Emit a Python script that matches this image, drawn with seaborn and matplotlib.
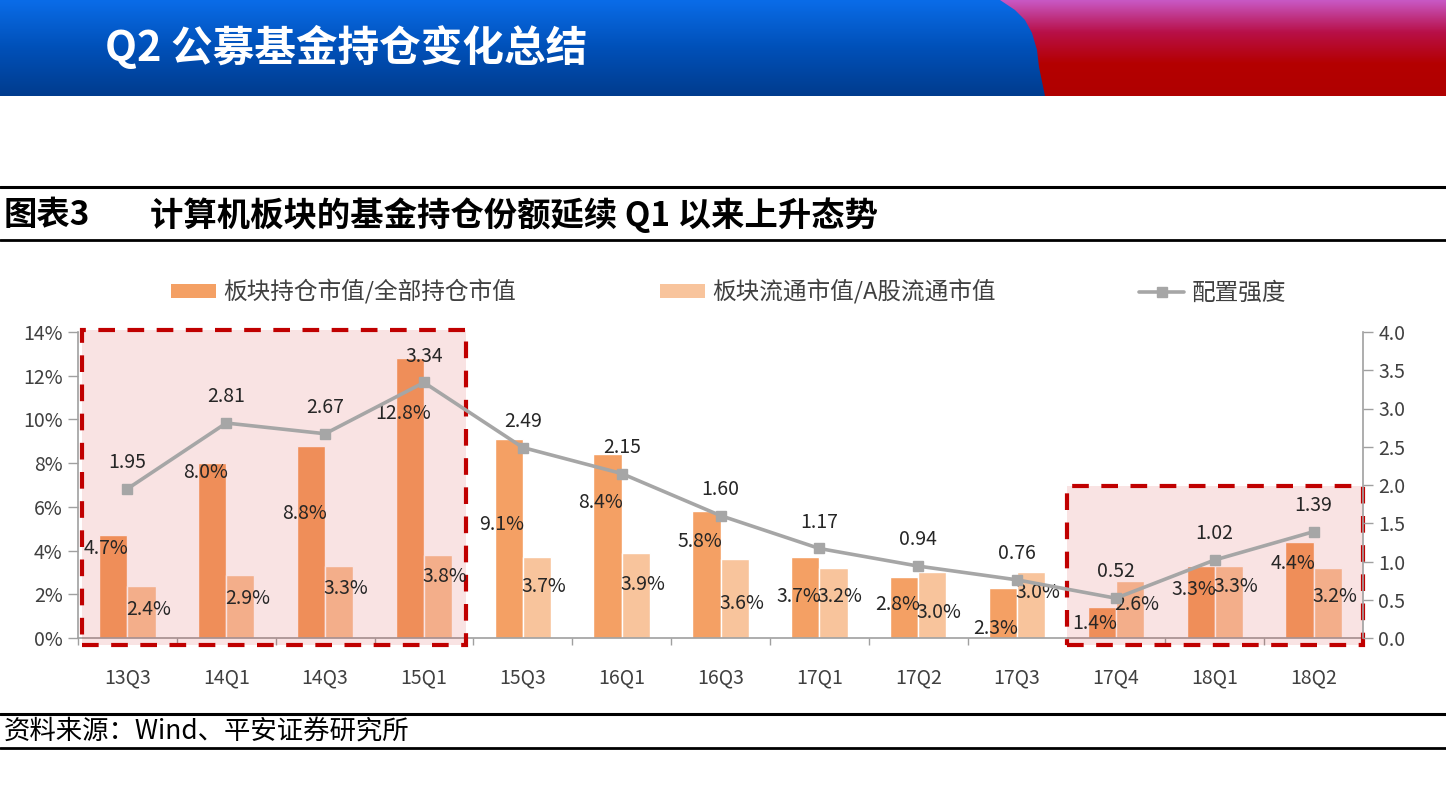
import numpy as np
import pandas as pd
import matplotlib
matplotlib.use('Agg')
import matplotlib.pyplot as plt
import seaborn as sns
from matplotlib.patches import Rectangle, Polygon, Patch
from matplotlib.lines import Line2D
from matplotlib.colors import LinearSegmentedColormap

# DATOS
periodos = ["13Q3", "14Q1", "14Q3", "15Q1", "15Q3", "16Q1", "16Q3",
            "17Q1", "17Q2", "17Q3", "17Q4", "18Q1", "18Q2"]
hold_share = [4.7, 8.0, 8.8, 12.8, 9.1, 8.4, 5.8, 3.7, 2.8, 2.3, 1.4, 3.3, 4.4]
float_share = [2.4, 2.9, 3.3, 3.8, 3.7, 3.9, 3.6, 3.2, 3.0, 3.0, 2.6, 3.3, 3.2]
intensidad = [1.95, 2.81, 2.67, 3.34, 2.49, 2.15, 1.60, 1.17, 0.94, 0.76, 0.52, 1.02, 1.39]

serie1 = "板块持仓市值/全部持仓市值"
serie2 = "板块流通市值/A股流通市值"
serie3 = "配置强度"

# posicion vertical (en %) de las etiquetas, como en el original
pos_lab1 = [4.1, 7.55, 5.7, 10.25, 5.2, 6.2, 4.4, 1.9, 1.55, 0.45, 0.65, 2.2, 3.4]
pos_lab2 = [1.3, 1.8, 2.25, 2.8, 2.35, 2.45, 1.6, 1.9, 1.15, 2.1, 1.55, 2.35, 1.9]

df = pd.DataFrame({
    "periodo": periodos * 2,
    "valor": hold_share + float_share,
    "serie": [serie1] * len(periodos) + [serie2] * len(periodos),
})

c1 = "#F4A064"
c2 = "#F8C49C"
c_line = "#A6A6A6"
c_txt = "#262626"
c_tick = "#404040"

sns.set_theme(style="white")
plt.rcParams['font.family'] = ['Noto Sans CJK SC', 'DejaVu Sans']
plt.rcParams['axes.unicode_minus'] = False

fig = plt.figure(figsize=(14.46, 8.10), dpi=100)

# FONDO / CABECERA
bg = fig.add_axes([0, 0, 1, 1], zorder=-10)
bg.set_xlim(0, 1446)
bg.set_ylim(810, 0)
bg.axis("off")

grad = np.linspace(0, 1, 100).reshape(-1, 1)
cmap_blue = LinearSegmentedColormap.from_list("b", ["#0A6CE8", "#0050B8", "#003C8E"])
bg.imshow(grad, cmap=cmap_blue, extent=[0, 1446, 96, 0], aspect="auto", zorder=1)
cmap_red = LinearSegmentedColormap.from_list("r", ["#C858C4", "#B81048", "#B40000", "#B00000"])
im_red = bg.imshow(grad, cmap=cmap_red, extent=[0, 1446, 96, 0], aspect="auto", zorder=2)
forma = Polygon([(1000, 0), (1015, 10), (1025, 20), (1032, 33), (1037, 50),
                 (1039, 67), (1045, 96), (1446, 96), (1446, 0)],
                closed=True, transform=bg.transData, facecolor="none", edgecolor="none")
bg.add_patch(forma)
im_red.set_clip_path(forma)

bg.text(105, 48, "Q2 公募基金持仓变化总结", color="white", fontsize=30,
        fontweight="bold", va="center", ha="left", zorder=5)

for yy, lw in [(187, 2.2), (240, 2.0), (714, 2.2), (748, 2.0)]:
    bg.plot([0, 1446], [yy, yy], color="black", lw=lw, zorder=3)

bg.text(4, 215, "图表3", fontsize=24, fontweight="bold", va="center", ha="left", color="black")
bg.text(150, 215, "计算机板块的基金持仓份额延续 Q1 以来上升态势", fontsize=24,
        fontweight="bold", va="center", ha="left", color="black")
bg.text(4, 732, "资料来源：Wind、平安证券研究所", fontsize=19, style="italic",
        va="center", ha="left", color="black")

# GRAFICO PRINCIPAL
ax = fig.add_axes([78 / 1446, 1 - 638 / 810, (1363 - 78) / 1446, (638 - 332) / 810])
ax.set_facecolor("none")
sns.barplot(data=df, x="periodo", y="valor", hue="serie", palette=[c1, c2],
            width=0.57, gap=0, saturation=1, legend=False, ax=ax, zorder=2)
ax.set_ylim(0, 14)
ax.set_xlim(-0.5, len(periodos) - 0.5)
ax.set_yticks(np.arange(0, 15, 2))
ax.set_yticklabels([f"{v}%" for v in range(0, 15, 2)])
ax.set_xlabel("")
ax.set_ylabel("")
ax.tick_params(axis="y", direction="out", length=7, width=1, color="#A0A0A0",
               labelsize=14, labelcolor=c_tick, pad=4, left=True)
ax.tick_params(axis="x", which="major", length=0, labelsize=14, labelcolor=c_tick, pad=21)
ax.set_xticks(np.arange(-0.5, len(periodos), 1), minor=True)
ax.tick_params(axis="x", which="minor", direction="out", length=5, width=1,
               color="#A0A0A0", bottom=True)
for s in ["top", "right"]:
    ax.spines[s].set_visible(False)
for s in ["left", "bottom"]:
    ax.spines[s].set_color("#A0A0A0")
    ax.spines[s].set_linewidth(1.2)
ax.grid(False)

# cajas destacadas
for x0, x1, y1 in [(-0.455, 3.43, 14.1), (9.51, 12.5, 6.95)]:
    ax.add_patch(Rectangle((x0, -0.3), x1 - x0, y1 + 0.3, facecolor=(0.8, 0, 0, 0.11),
                           edgecolor="none", zorder=3, clip_on=False))
    ax.add_patch(Rectangle((x0, -0.3), x1 - x0, y1 + 0.3, facecolor="none",
                           edgecolor="#C00000", lw=3, linestyle=(0, (4, 3)),
                           zorder=4, clip_on=False))

bw = 0.57 / 2
for i in range(len(periodos)):
    ax.text(i - bw / 2 - 0.07, pos_lab1[i], f"{hold_share[i]:.1f}%", ha="center", va="center",
            fontsize=14, color=c_txt, zorder=6)
    ax.text(i + bw / 2 + 0.07, pos_lab2[i], f"{float_share[i]:.1f}%", ha="center", va="center",
            fontsize=14, color=c_txt, zorder=6)

# EJE SECUNDARIO
ax2 = ax.twinx()
ax2.plot(np.arange(len(periodos)), intensidad, color=c_line, lw=2.6, marker="s",
         markersize=7.5, zorder=5)
ax2.set_ylim(0, 4)
ax2.set_yticks(np.arange(0, 4.01, 0.5))
ax2.set_yticklabels([f"{v:.1f}" for v in np.arange(0, 4.01, 0.5)])
ax2.tick_params(axis="y", direction="out", length=7, width=1, color="#A0A0A0",
                labelsize=14, labelcolor=c_tick, pad=4, right=True)
for s in ["top", "left", "bottom"]:
    ax2.spines[s].set_visible(False)
ax2.spines["right"].set_color("#A0A0A0")
ax2.spines["right"].set_linewidth(1.2)
ax2.grid(False)
for i, v in enumerate(intensidad):
    ax2.annotate(f"{v:.2f}", (i, v), xytext=(0, 19), textcoords="offset points",
                 ha="center", va="center", fontsize=14, color=c_txt)

# LEYENDA
handles = [Patch(facecolor=c1, edgecolor="none"),
           Patch(facecolor=c2, edgecolor="none"),
           Line2D([0], [0], color=c_line, lw=2.6, marker="s", markersize=7.5)]
leg = fig.legend(handles, [serie1, serie2, serie3], ncol=3, loc="center left",
                 bbox_to_anchor=(150 / 1446, 1 - 292 / 810), frameon=False,
                 fontsize=17, handlelength=1.9, handleheight=0.5, handletextpad=0.3,
                 columnspacing=6.1)
for t in leg.get_texts():
    t.set_color(c_tick)

plt.savefig("out.png", dpi=100)
plt.close()
